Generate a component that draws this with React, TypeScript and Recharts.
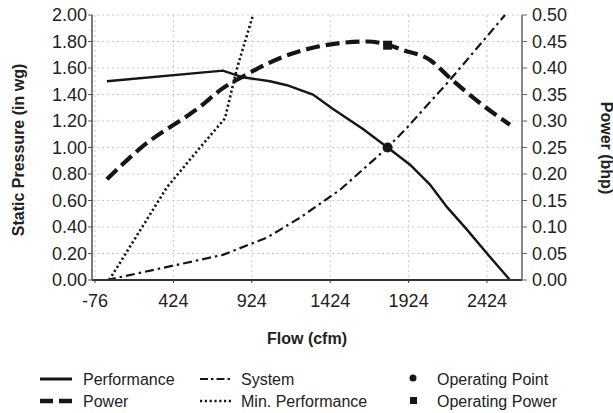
import { ComposedChart, Line, Scatter, XAxis, YAxis, CartesianGrid } from 'recharts'

// flow ticks and axis ticks
const flowTicks = [-76, 424, 924, 1424, 1924, 2424]
const pressureTicks = [0, 0.2, 0.4, 0.6, 0.8, 1.0, 1.2, 1.4, 1.6, 1.8, 2.0]
const powerTicks = [0, 0.05, 0.1, 0.15, 0.2, 0.25, 0.3, 0.35, 0.4, 0.45, 0.5]

// Performance (static pressure, in wg)
const perfFlow = [0, 740, 868, 1040, 1148, 1314, 1442, 1633, 1790, 1933, 2060, 2169, 2296, 2424, 2570]
const perfPressure = [1.5, 1.58, 1.53, 1.5, 1.47, 1.4, 1.29, 1.14, 1.0, 0.87, 0.72, 0.55, 0.38, 0.2, 0.0]

// Power (bhp)
const powerFlow = [0, 211, 594, 740, 868, 1123, 1340, 1659, 1790, 1888, 2060, 2188, 2379, 2570]
const powerBhp = [0.19, 0.248, 0.327, 0.362, 0.384, 0.421, 0.44, 0.45, 0.444, 0.434, 0.415, 0.381, 0.334, 0.293]

// System curve (in wg)
const systemFlow = [0, 740, 1021, 1231, 1486, 1790, 1914, 2188, 2539]
const systemPressure = [0, 0.19, 0.32, 0.47, 0.68, 1.0, 1.15, 1.51, 2.0]

// Min. performance (in wg)
const minFlow = [15, 383, 594, 753, 830, 932]
const minPressure = [0, 0.7, 1.0, 1.22, 1.6, 2.0]

// operating point / operating power
const opFlow = [1790]
const opPressure = [1.0]
const opPower = [0.443]

const toPoints = (f: number[], v: number[]) => f.map((x, i) => ({ flow: x, value: v[i] }))

const FONT = "'Liberation Sans', Arial, sans-serif"
const INK = '#161616'

export default function App() {
  const tickStyle = { fontSize: 18, fill: '#222', fontFamily: FONT }
  return (
    <div style={{ position: 'absolute', left: 0, top: 0, width: 613, height: 413, background: '#fff', fontFamily: FONT }}>
      <ComposedChart width={613} height={413} margin={{ top: 15, right: 0, bottom: 103, left: 0 }}>
        <CartesianGrid yAxisId="left" stroke="#c8c8c8" strokeDasharray="2 3" />
        <XAxis
          type="number"
          dataKey="flow"
          domain={[-95, 2647]}
          ticks={flowTicks}
          allowDataOverflow
          height={30}
          tick={tickStyle}
          tickSize={3}
          tickMargin={11}
          axisLine={{ stroke: '#333', strokeWidth: 2 }}
          tickLine={{ stroke: '#333' }}
          label={{
            content: () => (
              <text x={307} y={338} textAnchor="middle" dominantBaseline="central" fontSize={16} fontWeight="bold" fill="#222" fontFamily={FONT}>
                Flow (cfm)
              </text>
            ),
          }}
        />
        <YAxis
          yAxisId="left"
          width={92}
          domain={[0, 2]}
          ticks={pressureTicks}
          tickFormatter={(v: number) => v.toFixed(2)}
          tick={tickStyle}
          tickSize={4}
          tickMargin={1}
          axisLine={{ stroke: '#555', strokeWidth: 1.5 }}
          tickLine={{ stroke: '#555' }}
          label={{
            content: () => (
              <text transform="translate(18.5,150) rotate(-90)" textAnchor="middle" dominantBaseline="central" fontSize={16} fontWeight="bold" fill="#222" fontFamily={FONT}>
                Static Pressure (in wg)
              </text>
            ),
          }}
        />
        <YAxis
          yAxisId="right"
          orientation="right"
          width={91}
          domain={[0, 0.5]}
          ticks={powerTicks}
          tickFormatter={(v: number) => v.toFixed(2)}
          tick={tickStyle}
          tickSize={5}
          tickMargin={5}
          axisLine={{ stroke: '#666', strokeWidth: 1.5 }}
          tickLine={{ stroke: '#666' }}
          label={{
            content: () => (
              <text transform="translate(606,148) rotate(90)" textAnchor="middle" dominantBaseline="central" fontSize={16} fontWeight="bold" fill="#222" fontFamily={FONT}>
                Power (bhp)
              </text>
            ),
          }}
        />

        <Line yAxisId="left" data={toPoints(systemFlow, systemPressure)} dataKey="value" type="linear" stroke={INK} strokeWidth={2.2} strokeDasharray="9 4 2.5 4" dot={false} isAnimationActive={false} />
        <Line yAxisId="left" data={toPoints(minFlow, minPressure)} dataKey="value" type="linear" stroke={INK} strokeWidth={2.6} strokeDasharray="2.2 2.6" dot={false} isAnimationActive={false} />
        <Line yAxisId="left" data={toPoints(perfFlow, perfPressure)} dataKey="value" type="linear" stroke={INK} strokeWidth={2.4} dot={false} isAnimationActive={false} />
        <Line yAxisId="right" data={toPoints(powerFlow, powerBhp)} dataKey="value" type="monotone" stroke={INK} strokeWidth={4.2} strokeDasharray="14 6" dot={false} isAnimationActive={false} />

        <Scatter
          yAxisId="left"
          data={toPoints(opFlow, opPressure)}
          dataKey="value"
          isAnimationActive={false}
          shape={(p: any) => <circle cx={p.cx} cy={p.cy} r={5} fill={INK} />}
        />
        <Scatter
          yAxisId="right"
          data={toPoints(opFlow, opPower)}
          dataKey="value"
          isAnimationActive={false}
          shape={(p: any) => <rect x={p.cx - 4.5} y={p.cy - 4.5} width={9} height={9} fill={INK} />}
        />
      </ComposedChart>

      <svg width={613} height={60} style={{ position: 'absolute', left: 0, top: 360 }}>
        <g fontFamily={FONT} fontSize={16} fill="#222">
          <line x1={40} x2={72} y1={19} y2={19} stroke={INK} strokeWidth={3} />
          <text x={83} y={19} dominantBaseline="central">Performance</text>
          <line x1={40} x2={72} y1={41} y2={41} stroke={INK} strokeWidth={4.5} strokeDasharray="13 6" />
          <text x={83} y={41} dominantBaseline="central">Power</text>

          <line x1={200} x2={233} y1={19} y2={19} stroke={INK} strokeWidth={2.2} strokeDasharray="8 3 2.5 3" />
          <text x={241} y={19} dominantBaseline="central">System</text>
          <line x1={200} x2={233} y1={41} y2={41} stroke={INK} strokeWidth={2.4} strokeDasharray="2.2 2.6" />
          <text x={241} y={41} dominantBaseline="central">Min. Performance</text>

          <circle cx={413} cy={18} r={3.5} fill={INK} />
          <text x={437} y={19} dominantBaseline="central">Operating Point</text>
          <rect x={410} y={37} width={7} height={7} fill={INK} />
          <text x={437} y={41} dominantBaseline="central">Operating Power</text>
        </g>
      </svg>
    </div>
  )
}
